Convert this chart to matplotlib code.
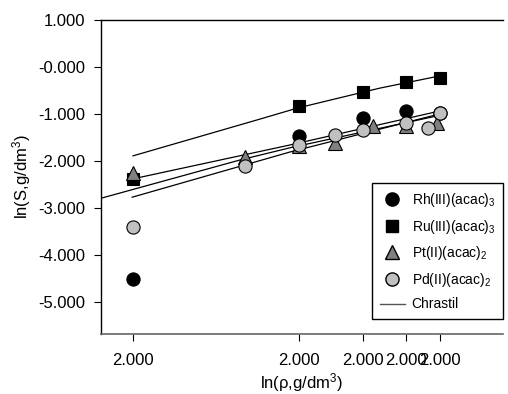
import matplotlib
matplotlib.use("Agg")
import matplotlib.pyplot as plt
from matplotlib.lines import Line2D
from matplotlib import font_manager

# ---------------- data ----------------
rh_x = [480, 679, 756, 808, 848]
rh_y = [-4.50, -1.46, -1.09, -0.94, -0.98]

ru_x = [480, 679, 756, 808, 848]
ru_y = [-2.38, -0.84, -0.53, -0.32, -0.24]

pt_x = [480, 614, 679, 722, 768, 808, 845]
pt_y = [-2.25, -1.91, -1.68, -1.62, -1.26, -1.26, -1.19]

pd_x = [480, 614, 679, 722, 756, 808, 834, 848]
pd_y = [-3.40, -2.10, -1.65, -1.45, -1.34, -1.19, -1.30, -0.98]

# Chrastil fit lines
fit_ru_x = [480, 632, 678, 776, 848]
fit_ru_y = [-1.89, -1.11, -0.87, -0.45, -0.19]

fit_b_x = [485, 668, 852]
fit_b_y = [-2.36, -1.66, -0.92]

fit_c_x = [442, 608, 668, 845]
fit_c_y = [-2.79, -1.98, -1.72, -1.04]

fit_d_x = [479, 668, 852]
fit_d_y = [-2.77, -1.81, -0.98]

x_ticks = [480, 679, 756, 808, 848]
x_tick_labels = ["2.000", "2.000", "2.000", "2.000", "2.000"]
y_ticks = [1, 0, -1, -2, -3, -4, -5]
y_tick_labels = ["1.000", "-0.000", "-1.000", "-2.000", "-3.000", "-4.000", "-5.000"]

legend_labels = [r"Rh(III)(acac)$_3$", r"Ru(III)(acac)$_3$",
                 r"Pt(II)(acac)$_2$", r"Pd(II)(acac)$_2$", "Chrastil"]

# ---------------- style ----------------
avail = {f.name for f in font_manager.fontManager.ttflist}
main_font = "Liberation Sans"
narrow = "Liberation Sans Narrow" if "Liberation Sans Narrow" in avail else "Liberation Sans"
plt.rcParams["font.family"] = [main_font, "DejaVu Sans"]
plt.rcParams["mathtext.fontset"] = "custom"
plt.rcParams["mathtext.rm"] = main_font
plt.rcParams["mathtext.it"] = main_font
plt.rcParams["mathtext.bf"] = main_font

fig = plt.figure(figsize=(5.08, 3.94), dpi=100)
ax = fig.add_axes([101 / 508, 60 / 394, 402 / 508, 314 / 394])

lw_fit = 0.9
for fx, fy in [(fit_ru_x, fit_ru_y), (fit_b_x, fit_b_y), (fit_c_x, fit_c_y), (fit_d_x, fit_d_y)]:
    ax.plot(fx, fy, color="black", lw=lw_fit, zorder=2)

ms = 9.5
ax.plot(rh_x, rh_y, "o", color="black", mec="black", ms=ms, mew=0.8, zorder=3)
ax.plot(ru_x, ru_y, "s", color="black", mec="black", ms=ms - 0.8, mew=0.8, zorder=3)
ax.plot(pt_x, pt_y, "^", color="#808080", mec="black", ms=ms, mew=0.8, zorder=4)
ax.plot(pd_x, pd_y, "o", color="#c0c0c0", mec="black", ms=ms, mew=0.8, zorder=5)

ax.set_xlim(441.6, 924)
ax.set_ylim(-5.68, 1.0)

ax.set_xticks(x_ticks)
ax.set_xticklabels(x_tick_labels)
ax.set_yticks(y_ticks)
ax.set_yticklabels(y_tick_labels)
ax.tick_params(axis="both", labelsize=12, length=5, width=0.8, direction="out", color="black")
ax.tick_params(axis="x", pad=9)
ax.tick_params(axis="y", pad=6)

ax.spines["right"].set_visible(False)
for s in ["left", "top"]:
    ax.spines[s].set_linewidth(1.0)
    ax.spines[s].set_color("black")
ax.spines["bottom"].set_linewidth(1.2)
ax.spines["bottom"].set_color("#666666")

ax.set_xlabel(r"ln($\rho$,g/dm$^3$)", fontsize=12, labelpad=2)
ax.set_ylabel(r"ln(S,g/dm$^3$)", fontsize=12, labelpad=4)

handles = [
    Line2D([], [], ls="", marker="o", color="black", mec="black", ms=ms),
    Line2D([], [], ls="", marker="s", color="black", mec="black", ms=ms - 0.8),
    Line2D([], [], ls="", marker="^", color="#808080", mec="black", ms=ms),
    Line2D([], [], ls="", marker="o", color="#c0c0c0", mec="black", ms=ms),
    Line2D([], [], color="#555555", lw=1.0),
]
leg = ax.legend(handles, legend_labels, loc="lower right",
                bbox_to_anchor=(1.0, (334 - 319) / 314),
                frameon=True, fancybox=False, shadow=False, framealpha=1,
                edgecolor="black", handlelength=1.8, handletextpad=0.5,
                borderpad=0.55, labelspacing=0.62, borderaxespad=0,
                prop={"family": narrow, "size": 10})
leg.get_frame().set_linewidth(1.0)

fig.savefig("out.png", dpi=100)
